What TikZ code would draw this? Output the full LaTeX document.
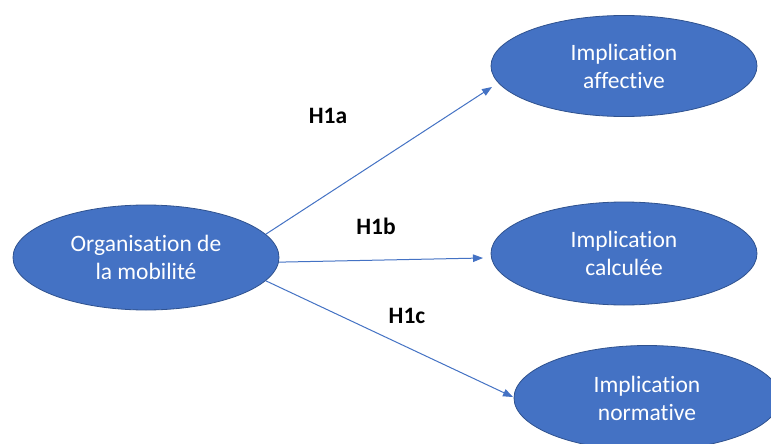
\documentclass[tikz,border=0pt]{standalone}
\usepackage{fontspec}
\setmainfont{Carlito}[Ligatures={NoCommon,NoContextual}]
\usetikzlibrary{arrows.meta,shapes.geometric}
\definecolor{officeblue}{HTML}{4472C4}
\definecolor{officeedge}{HTML}{2F528F}

\begin{document}
\begin{tikzpicture}[x=1pt,y=-1pt,
  construct/.style={ellipse,fill=officeblue,draw=officeedge,line width=0.8pt,
    minimum width=266pt,minimum height=103pt,text=white,align=center,
    font=\fontsize{23.5}{28}\selectfont},
  link/.style={draw=officeblue,line width=1pt,-{Triangle[length=10pt,width=7.5pt]}},
  hyp/.style={font=\fontsize{23.5}{28}\selectfont\bfseries}]

\clip (0,0) rectangle (771,444);
\fill[white] (0,0) rectangle (771,444);

% Draw the constructs
\node[construct,minimum height=105pt] (org) at (146,257.5) {Organisation de\\la mobilité};
\node[construct,minimum height=101pt] (aff) at (624,66) {Implication\\affective};
\node[construct] (cal) at (624,253.5) {Implication\\calculée};
\node[construct,minimum height=105pt] (nor) at (647,398) {Implication\\normative};

% Free ends of the arrows
\coordinate (tipA) at (492,87);
\coordinate (tipB) at (483,258);
\coordinate (tipC) at (513,397);

% Draw the arrows for the hypotheses
\foreach \ang/\tip in {11/tipA,-2/tipB,-11/tipC} {
    \draw[link] (org.\ang) -- (\tip);
}

% Hypothesis labels
\node[hyp] (labA) at (328,116) {H1a};
\node[hyp] (labB) at (376,226) {H1b};
\node[hyp] (labC) at (407,316) {H1c};

\end{tikzpicture}
\end{document}
